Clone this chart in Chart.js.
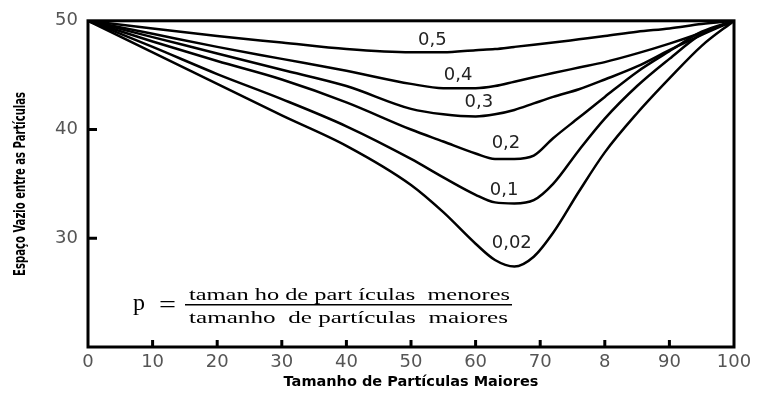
<!DOCTYPE html>
<html>
<head>
<meta charset="utf-8">
<script src="https://cdn.jsdelivr.net/npm/chart.js@4.4.0/dist/chart.umd.min.js"></script>
<style>
  html, body { margin: 0; padding: 0; background: #fff; }
  #wrap { width: 759px; height: 394px; }
</style>
</head>
<body>
<div id="wrap"><canvas id="grafico"></canvas></div>
<script>
// valores
const tamanhoMaiores = [0, 10, 20, 30, 40, 50, 55, 60, 63, 66, 69, 72, 76, 80, 85, 90, 95, 100];
const p050 = [50, 49.3, 48.6, 48.0, 47.4, 47.1, 47.1, 47.3, 47.4, 47.6, 47.8, 48.0, 48.3, 48.6, 49.0, 49.3, 49.7, 50];
const p040 = [50, 48.8, 47.6, 46.5, 45.4, 44.2, 43.8, 43.8, 44.0, 44.4, 44.8, 45.2, 45.7, 46.2, 47.0, 47.9, 48.9, 50];
const p030 = [50, 48.5, 47.0, 45.5, 44.0, 41.9, 41.4, 41.2, 41.4, 41.8, 42.4, 43.0, 43.7, 44.6, 45.8, 47.3, 48.7, 50];
const p020 = [50, 48.1, 46.3, 44.6, 42.5, 40.0, 38.9, 37.8, 37.3, 37.3, 37.6, 39.2, 41.1, 43.0, 45.3, 47.2, 49.0, 50];
const p010 = [50, 47.6, 45.1, 42.8, 40.3, 37.3, 35.6, 34.0, 33.3, 33.2, 33.5, 35.0, 38.1, 41.0, 44.0, 46.5, 48.8, 50];
const p002 = [50, 47.1, 44.2, 41.3, 38.5, 34.9, 32.4, 29.5, 28.0, 27.4, 28.3, 30.5, 34.3, 37.9, 41.5, 44.7, 47.7, 50];

const nomesSeries = ['0,5', '0,4', '0,3', '0,2', '0,1', '0,02'];
// onde fica o rotulo de cada curva (em unidades do grafico)
const rotuloX = [53.3, 57.3, 60.5, 64.7, 64.4, 65.6];
const rotuloY = [48.2, 45.0, 42.5, 38.7, 34.4, 29.5];

const ticksX = [0, 10, 20, 30, 40, 50, 60, 70, 80, 90, 100];
const rotulosTicksX = ['0', '10', '20', '30', '40', '50', '60', '70', '8', '90', '100'];
const ticksY = [30, 40, 50];

const tituloY = 'Espaço Vazio entre as Partículas';
const formulaNumerador = 'taman ho de part ículas  menores';
const formulaDenominador = 'tamanho  de partículas  maiores';

const series = [p050, p040, p030, p020, p010, p002];

const datasets = series.map((valores, i) => ({
    label: nomesSeries[i],
    data: tamanhoMaiores.map((x, j) => ({ x: x, y: valores[j] })),
    borderColor: '#000',
    borderWidth: 2.5,
    pointRadius: 0,
    fill: false,
    cubicInterpolationMode: 'monotone'
}));

// texto esticado/apertado para caber numa largura
function textoAjustado(ctx, t, x, y, largura) {
    const w = ctx.measureText(t).width;
    ctx.save();
    ctx.translate(x, y);
    ctx.scale(largura / w, 1);
    ctx.fillText(t, 0, 0);
    ctx.restore();
}

const moldura = {
    id: 'moldura',
    afterDraw(chart) {
        const ctx = chart.ctx;
        const a = chart.chartArea;
        const sx = chart.scales.x, sy = chart.scales.y;
        ctx.save();
        ctx.strokeStyle = '#000';
        ctx.lineWidth = 3;
        ctx.strokeRect(a.left, a.top, a.right - a.left, a.bottom - a.top);
        // tracinhos para dentro
        ctx.beginPath();
        ticksX.slice(1, -1).forEach(v => {
            const px = sx.getPixelForValue(v);
            ctx.moveTo(px, a.bottom);
            ctx.lineTo(px, a.bottom - 7);
        });
        ticksY.slice(0, -1).forEach(v => {
            const py = sy.getPixelForValue(v);
            ctx.moveTo(a.left, py);
            ctx.lineTo(a.left + 9, py);
        });
        ctx.stroke();

        // rotulos das curvas
        ctx.fillStyle = '#222';
        ctx.font = '18px "DejaVu Sans"';
        ctx.textAlign = 'center';
        ctx.textBaseline = 'middle';
        nomesSeries.forEach((n, i) => {
            ctx.fillText(n, sx.getPixelForValue(rotuloX[i]), sy.getPixelForValue(rotuloY[i]));
        });

        // titulo do eixo y, bem condensado
        ctx.save();
        ctx.fillStyle = '#000';
        ctx.font = 'bold 15px "DejaVu Sans Condensed", "DejaVu Sans"';
        ctx.textAlign = 'left';
        ctx.translate(21, (a.top + a.bottom) / 2);
        ctx.rotate(-Math.PI / 2);
        textoAjustado(ctx, tituloY, -92, 0, 184);
        ctx.restore();

        // formula de p
        const barraIni = a.left + 97, barraFim = a.left + 424, barraY = a.top + 284;
        ctx.fillStyle = '#000';
        ctx.font = '24px "Liberation Serif"';
        ctx.textAlign = 'left';
        ctx.textBaseline = 'alphabetic';
        ctx.fillText('p', a.left + 45, barraY + 5);
        textoAjustado(ctx, '=', a.left + 71, barraY + 7, 17);
        ctx.lineWidth = 1.6;
        ctx.beginPath();
        ctx.moveTo(barraIni, barraY);
        ctx.lineTo(barraFim, barraY);
        ctx.stroke();
        ctx.font = '17px "Liberation Serif"';
        textoAjustado(ctx, formulaNumerador, barraIni + 4, barraY - 5, barraFim - barraIni - 6);
        textoAjustado(ctx, formulaDenominador, barraIni + 4, barraY + 18, barraFim - barraIni - 8);
        ctx.restore();
    }
};

new Chart(document.getElementById('grafico').getContext('2d'), {
    type: 'line',
    data: { datasets: datasets },
    options: {
        responsive: true,
        maintainAspectRatio: false,
        animation: false,
        layout: { padding: { top: 15, right: 25, left: 0, bottom: 0 } },
        plugins: {
            legend: { display: false },
            tooltip: { enabled: false }
        },
        scales: {
            x: {
                type: 'linear',
                min: 0,
                max: 100,
                afterFit: s => { s.height = 47; },
                afterBuildTicks: s => { s.ticks = ticksX.map(v => ({ value: v })); },
                grid: { display: false, drawTicks: false },
                border: { display: false },
                ticks: {
                    padding: 5,
                    color: '#555',
                    font: { family: 'DejaVu Sans', size: 18 },
                    maxRotation: 0,
                    callback: (v) => rotulosTicksX[ticksX.indexOf(v)]
                },
                title: {
                    display: true,
                    text: 'Tamanho de Partículas Maiores',
                    color: '#000',
                    font: { family: 'DejaVu Sans', size: 14.5, weight: 'bold' },
                    padding: { top: 0, bottom: 3 }
                }
            },
            y: {
                min: 20,
                max: 50,
                afterFit: s => { s.width = 88; },
                afterBuildTicks: s => { s.ticks = ticksY.map(v => ({ value: v })); },
                grid: { display: false, drawTicks: false },
                border: { display: false },
                ticks: {
                    padding: 10,
                    color: '#555',
                    font: { family: 'DejaVu Sans', size: 18 }
                }
            }
        }
    },
    plugins: [moldura]
});
</script>
</body>
</html>
